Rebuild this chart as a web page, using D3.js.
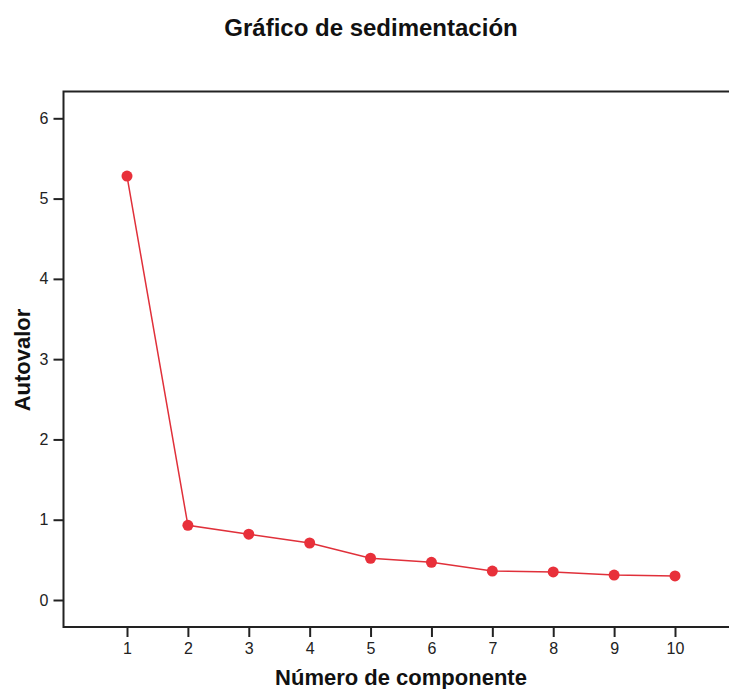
<!DOCTYPE html>
<html>
<head>
<meta charset="utf-8">
<script src="https://cdn.jsdelivr.net/npm/d3@7"></script>
<style>
  body { margin: 0; background: #fff; }
  text { font-family: "Liberation Sans", Arial, sans-serif; fill: #111; }
  .title { font-size: 24px; font-weight: bold; }
  .axis-label { font-size: 22px; font-weight: bold; }
  .tick text { font-size: 16px; fill: #222; }
</style>
</head>
<body>
<div id="chart"></div>
<script>
// component numbers and their eigenvalues
let components = [1, 2, 3, 4, 5, 6, 7, 8, 9, 10];
let eigenvalues = [5.28, 0.93, 0.82, 0.71, 0.52, 0.47, 0.36, 0.35, 0.31, 0.30];
let yTicks = [0, 1, 2, 3, 4, 5, 6];

let options = {
  width: 729,
  height: 689,
  frame: { left: 63.5, right: 740, top: 91.5, bottom: 627 }
};

function renderGraph() {
  let svg = d3.select("#chart")
    .append("svg")
    .attr("width", options.width)
    .attr("height", options.height);

  let xScale = d3.scaleLinear().domain([1, 10]).range([127, 675]);
  let yScale = d3.scaleLinear().domain([0, 6]).range([600, 118.3]);

  // title
  svg.append("text")
    .attr("class", "title")
    .attr("x", 371)
    .attr("y", 36)
    .attr("text-anchor", "middle")
    .text("Gráfico de sedimentación");

  // frame: left, top and bottom lines
  let f = options.frame;
  svg.append("path")
    .attr("d", `M${f.right},${f.top}H${f.left}V${f.bottom}H${f.right}`)
    .attr("fill", "none")
    .attr("stroke", "#222")
    .attr("stroke-width", 2);

  // axes
  let yAxis = d3.axisLeft(yScale)
    .tickValues(yTicks)
    .tickSize(10)
    .tickPadding(5)
    .tickFormat(d3.format("d"));

  svg.append("g")
    .attr("transform", `translate(${f.left},0)`)
    .call(yAxis)
    .call(g => g.select(".domain").remove())
    .call(g => g.selectAll(".tick line").attr("stroke", "#222").attr("stroke-width", 2));

  let xAxis = d3.axisBottom(xScale)
    .tickValues(components)
    .tickSize(10)
    .tickPadding(6)
    .tickFormat(d3.format("d"));

  svg.append("g")
    .attr("transform", `translate(0,${f.bottom})`)
    .call(xAxis)
    .call(g => g.select(".domain").remove())
    .call(g => g.selectAll(".tick line").attr("stroke", "#222").attr("stroke-width", 2));

  // axis titles
  svg.append("text")
    .attr("class", "axis-label")
    .attr("x", 401)
    .attr("y", 685)
    .attr("text-anchor", "middle")
    .text("Número de componente");

  svg.append("text")
    .attr("class", "axis-label")
    .attr("transform", "translate(30,360) rotate(-90)")
    .attr("text-anchor", "middle")
    .text("Autovalor");

  // scree line and points
  let data = components.map((c, i) => ({ c: c, v: eigenvalues[i] }));

  let line = d3.line()
    .x(d => xScale(d.c))
    .y(d => yScale(d.v));

  svg.append("path")
    .datum(data)
    .attr("d", line)
    .attr("fill", "none")
    .attr("stroke", "#e0303a")
    .attr("stroke-width", 1.5);

  svg.selectAll("circle")
    .data(data)
    .enter()
    .append("circle")
    .attr("cx", d => xScale(d.c))
    .attr("cy", d => yScale(d.v))
    .attr("r", 5.5)
    .attr("fill", "#e8303a");
}

document.addEventListener("DOMContentLoaded", renderGraph);
</script>
</body>
</html>
